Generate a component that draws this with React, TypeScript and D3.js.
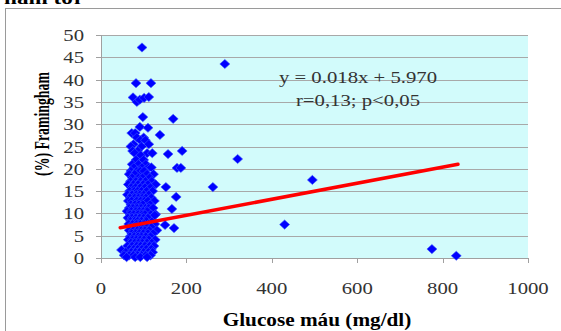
import {useEffect, useRef} from "react";
import * as d3 from "d3";

// dense cluster of patients, [glucose mg/dl, Framingham %]
const clusterPoints: [number, number][] = [
	[82, 39.2], [117, 39.2], [75, 36], [84, 35], [91, 35.5], [101, 35.9], [112, 36.1],
	[98, 31.6], [91, 29.4], [110, 29.2],
	[72, 28], [80, 28], [84, 27], [100, 27], [92, 26.4], [104, 26.4], [76, 25.5], [112, 25.5],
	[70, 25], [95, 25], [74, 24], [86, 24], [79, 23.5], [108, 23.5], [120, 23.5], [93, 23],
	[82, 22], [100, 22], [73, 21], [88, 21], [105, 21],
	[77, 20.3], [96, 20.3], [112, 20.3], [118, 20.3],
	[70, 19.5], [84, 19.5], [92, 19.5], [101, 19.5],
	[66, 18.8], [79, 18.8], [108, 18.8], [123, 18.8],
	[73, 18], [88, 18], [97, 18], [114, 18],
	[69, 17.2], [82, 17.2], [93, 17.2], [104, 17.2], [119, 17.2],
	[64, 16.5], [76, 16.5], [87, 16.5], [99, 16.5], [110, 16.5], [128, 16.5],
	[71, 15.8], [81, 15.8], [92, 15.8], [103, 15.8], [116, 15.8],
	[67, 15], [78, 15], [86, 15], [95, 15], [107, 15], [121, 15],
	[62, 14.2], [73, 14.2], [83, 14.2], [91, 14.2], [100, 14.2], [112, 14.2],
	[68, 13.5], [79, 13.5], [88, 13.5], [97, 13.5], [105, 13.5], [118, 13.5],
	[64, 12.8], [72, 12.8], [84, 12.8], [93, 12.8], [102, 12.8], [110, 12.8], [125, 12.8],
	[70, 12], [80, 12], [89, 12], [98, 12], [115, 12],
	[66, 11.2], [75, 11.2], [85, 11.2], [94, 11.2], [104, 11.2], [112, 11.2], [122, 11.2],
	[61, 10.5], [71, 10.5], [82, 10.5], [90, 10.5], [99, 10.5], [108, 10.5],
	[68, 9.8], [77, 9.8], [87, 9.8], [96, 9.8], [103, 9.8], [117, 9.8], [128, 9.8],
	[63, 9], [73, 9], [82, 9], [91, 9], [100, 9], [110, 9],
	[69, 8.3], [79, 8.3], [86, 8.3], [95, 8.3], [106, 8.3], [121, 8.3],
	[65, 7.6], [74, 7.6], [84, 7.6], [92, 7.6], [101, 7.6], [112, 7.6], [126, 7.6],
	[70, 6.9], [80, 6.9], [88, 6.9], [97, 6.9], [108, 6.9], [118, 6.9],
	[66, 6.2], [76, 6.2], [85, 6.2], [94, 6.2], [103, 6.2], [113, 6.2], [131, 6.2],
	[72, 5.5], [81, 5.5], [90, 5.5], [99, 5.5], [110, 5.5], [122, 5.5],
	[68, 4.8], [78, 4.8], [87, 4.8], [95, 4.8], [105, 4.8], [116, 4.8],
	[64, 4.1], [74, 4.1], [83, 4.1], [92, 4.1], [101, 4.1], [112, 4.1], [127, 4.1],
	[70, 3.4], [79, 3.4], [88, 3.4], [97, 3.4], [108, 3.4], [119, 3.4],
	[62, 2.7], [73, 2.7], [84, 2.7], [93, 2.7], [103, 2.7], [114, 2.7], [124, 2.7],
	[67, 2], [77, 2], [86, 2], [96, 2], [106, 2], [118, 2], [48, 1.8],
	[58, 1.3], [71, 1.3], [81, 1.3], [90, 1.3], [100, 1.3], [111, 1.3], [121, 1.3],
	[54, 0.6], [66, 0.6], [76, 0.6], [86, 0.6], [95, 0.6], [105, 0.6], [116, 0.6],
	[60, 0.2], [80, 0.2], [92, 0.2], [108, 0.2],
];

// scattered points away from the cluster
const outlierPoints: [number, number][] = [
	[96, 47.2], [290, 43.5], [169, 31.2], [138, 27.6], [190, 24], [157, 23.3],
	[320, 22.2], [178, 20.2], [187, 20.2], [495, 17.5], [152, 15.9], [262, 15.9],
	[176, 13.7], [166, 11], [126, 9.6], [430, 7.5], [150, 7.4], [171, 6.7],
	[775, 2], [832, 0.5],
];

const xTicks = [0, 200, 400, 600, 800, 1000];
const yTicks = [0, 5, 10, 15, 20, 25, 30, 35, 40, 45, 50];
const trendRange = [45, 836];
const slope = 0.018;
const intercept = 5.97;
const equationLines = ["y = 0.018x + 5.970", "r=0,13; p<0,05"];

const font = "'Liberation Serif', 'Times New Roman', serif";
const stretch = 1.22; // text in the original is wider than it is tall

const App = () => {
	const svgRef = useRef(null);

	useEffect(() => {
		const width = 561;
		const height = 331;
		const svg = d3.select(svgRef.current);
		svg.selectAll("*").remove();

		const x = d3.scaleLinear().domain([0, 1000]).range([101, 528]);
		const y = d3.scaleLinear().domain([0, 50]).range([258, 35]);

		svg.append("rect").attr("width", width).attr("height", height).attr("fill", "#fff");

		// cut-off caption above the chart
		svg.append("text")
			.attr("transform", `translate(4,4) scale(${stretch},1)`)
			.attr("font-family", font)
			.attr("font-weight", "bold")
			.attr("font-size", 19)
			.text("năm tới");

		// chart frame (runs off the right and bottom)
		svg.append("rect")
			.attr("x", 5.5)
			.attr("y", 8.5)
			.attr("width", 600)
			.attr("height", 400)
			.attr("fill", "none")
			.attr("stroke", "#9a9a9a");

		// plot area
		svg.append("rect")
			.attr("x", x(0))
			.attr("y", y(50))
			.attr("width", x(1000) - x(0))
			.attr("height", y(0) - y(50))
			.attr("fill", "#d2fbfb");

		svg.append("g")
			.selectAll("line")
			.data(yTicks.filter((d) => d > 0))
			.join("line")
			.attr("x1", x(0))
			.attr("x2", x(1000))
			.attr("y1", (d) => Math.round(y(d)) + 0.5)
			.attr("y2", (d) => Math.round(y(d)) + 0.5)
			.attr("stroke", "#a8a8a8");

		// y axis
		const yAxis = svg.append("g");
		yAxis.append("line")
			.attr("x1", x(0) + 0.5).attr("x2", x(0) + 0.5)
			.attr("y1", y(50)).attr("y2", y(0))
			.attr("stroke", "#a0a0a0");
		yAxis.selectAll("line.tick")
			.data(yTicks)
			.join("line")
			.attr("class", "tick")
			.attr("x1", x(0) - 5).attr("x2", x(0))
			.attr("y1", (d) => Math.round(y(d)) + 0.5)
			.attr("y2", (d) => Math.round(y(d)) + 0.5)
			.attr("stroke", "#a0a0a0");
		yAxis.selectAll("text")
			.data(yTicks)
			.join("text")
			.attr("transform", (d) => `translate(84,${y(d) + 6}) scale(${stretch},1)`)
			.attr("text-anchor", "end")
			.attr("font-family", font)
			.attr("font-size", 17)
			.attr("fill", "#333")
			.text((d) => d);

		// x axis
		const xAxis = svg.append("g");
		xAxis.append("line")
			.attr("x1", x(0)).attr("x2", x(1000))
			.attr("y1", y(0) + 0.5).attr("y2", y(0) + 0.5)
			.attr("stroke", "#a0a0a0");
		xAxis.selectAll("line.tick")
			.data(xTicks)
			.join("line")
			.attr("class", "tick")
			.attr("x1", (d) => Math.round(x(d)) + 0.5)
			.attr("x2", (d) => Math.round(x(d)) + 0.5)
			.attr("y1", y(0)).attr("y2", y(0) + 5)
			.attr("stroke", "#a0a0a0");
		xAxis.selectAll("text")
			.data(xTicks)
			.join("text")
			.attr("transform", (d) => `translate(${x(d)},294) scale(${stretch},1)`)
			.attr("text-anchor", "middle")
			.attr("font-family", font)
			.attr("font-size", 17)
			.attr("fill", "#333")
			.text((d) => d);

		// axis titles
		svg.append("text")
			.attr("transform", `translate(317,326) scale(1.18,1)`)
			.attr("text-anchor", "middle")
			.attr("font-family", font)
			.attr("font-weight", "bold")
			.attr("font-size", 18)
			.text("Glucose máu (mg/dl)");
		svg.append("text")
			.attr("transform", "translate(49,124) rotate(-90) scale(1,1.45)")
			.attr("text-anchor", "middle")
			.attr("font-family", font)
			.attr("font-weight", "bold")
			.attr("font-size", 13.8)
			.text("(%) Framingham");

		// scatter points
		const diamond = "M0,-4.6L5,0L0,4.6L-5,0Z";
		svg.append("g")
			.selectAll("path")
			.data([...clusterPoints, ...outlierPoints])
			.join("path")
			.attr("d", diamond)
			.attr("transform", (d) => `translate(${x(d[0])},${y(d[1])})`)
			.attr("fill", "#0000ff")
			.attr("stroke", "#3a58ff")
			.attr("stroke-width", 0.6);

		// trend line
		const line = d3.line<number>()
			.x((d) => x(d))
			.y((d) => y(slope * d + intercept));
		svg.append("path")
			.attr("d", line(trendRange))
			.attr("fill", "none")
			.attr("stroke", "#ff0000")
			.attr("stroke-width", 3.5)
			.attr("stroke-linecap", "round");

		// regression label
		svg.append("g")
			.selectAll("text")
			.data(equationLines)
			.join("text")
			.attr("transform", (d, i) => `translate(358,${83 + i * 23}) scale(${stretch},1)`)
			.attr("text-anchor", "middle")
			.attr("font-family", font)
			.attr("font-size", 17)
			.attr("fill", "#333")
			.text((d) => d);
	}, []);

	return (
		<svg
			ref={svgRef}
			width={561}
			height={331}
			style={{position: "absolute", left: 0, top: 0, display: "block"}}
		></svg>
	);
};

export default App;
